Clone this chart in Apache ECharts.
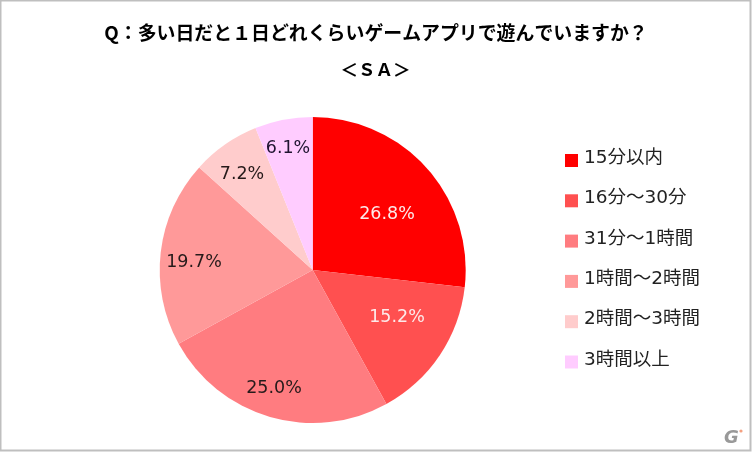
<!DOCTYPE html>
<html><head><meta charset="utf-8">
<style>html,body{margin:0;padding:0;background:#fff}#c{width:752px;height:452px}</style>
<script src="https://cdn.jsdelivr.net/npm/echarts@6/dist/echarts.min.js"></script>
</head><body><div id="c"></div>
<script>
const categories = ['15分以内','16分～30分','31分～1時間','1時間～2時間','2時間～3時間','3時間以上'];
const values = [26.8,15.2,25.0,19.7,7.2,6.1];
const colors = ['#ff0000','#ff5050','#ff7c80','#ff9999','#ffcccc','#ffccff'];
const labelColors = ['#fdeaea','#fdeaea','#261a1a','#261a1a','#261a1a','#1f1430'];
const titleLines = ['Q：多い日だと１日どれくらいゲームアプリで遊んでいますか？','＜ＳＡ＞'];
const labelCenters = [[387,214],[397,317],[274,388],[194,262],[242,174],[288,148]];
const font = '"DejaVu Sans","Noto Sans CJK JP",sans-serif';
const titleFont = '"Noto Sans CJK JP","Noto Sans",sans-serif';
const chart = echarts.init(document.getElementById('c'), null, {renderer:'canvas'});
chart.setOption({
  animation:false,
  backgroundColor:'#fff',
  title:[
    {text:titleLines[0],left:'center',top:20,textStyle:{fontFamily:titleFont,fontSize:18.9,fontWeight:'bold',color:'#000',lineHeight:26},padding:0},
    {text:titleLines[1],left:375.5,top:56,textAlign:'center',textStyle:{fontFamily:titleFont,fontSize:17.5,fontWeight:'bold',color:'#000',lineHeight:26},padding:0}
  ],
  legend:{
    orient:'vertical',left:565,top:149,padding:0,
    itemWidth:13,itemHeight:13,itemGap:21.8,
    icon:'rect',
    selectedMode:false,
    data:categories,
    formatter:n=>'{a|'+n+'}',
    textStyle:{padding:[0,0,0,1],rich:{a:{fontFamily:font,fontSize:18.5,color:'#222',lineHeight:23,verticalAlign:'top'}}}
  },
  series:[{
    type:'pie',
    center:[312.7,270],
    radius:[0,153],
    startAngle:90,
    clockwise:true,
    silent:true,
    color:colors,
    itemStyle:{borderWidth:0},
    label:{show:true,position:'inside',fontFamily:font,fontSize:17.5,formatter:p=>p.value.toFixed(1)+'%'},
    labelLine:{show:false},
    labelLayout:p=>({x:labelCenters[p.dataIndex][0],y:labelCenters[p.dataIndex][1],align:'center',verticalAlign:'middle'}),
    data:categories.map((n,i)=>({name:n,value:values[i],label:{color:labelColors[i]}}))
  }],
  graphic:[
    {type:'rect',silent:true,shape:{x:0.5,y:0.5,width:750,height:450},style:{fill:'none',stroke:'#bfbfbf',lineWidth:2}},
    {type:'text',silent:true,left:724,top:429,style:{text:'G',fontFamily:'"DejaVu Sans"',fontSize:18,fontWeight:'bold',fontStyle:'italic',fill:'#999'}},
    {type:'circle',silent:true,shape:{cx:741,cy:431,r:1.6},style:{fill:'#f4a080'}}
  ]
});
</script></body></html>
